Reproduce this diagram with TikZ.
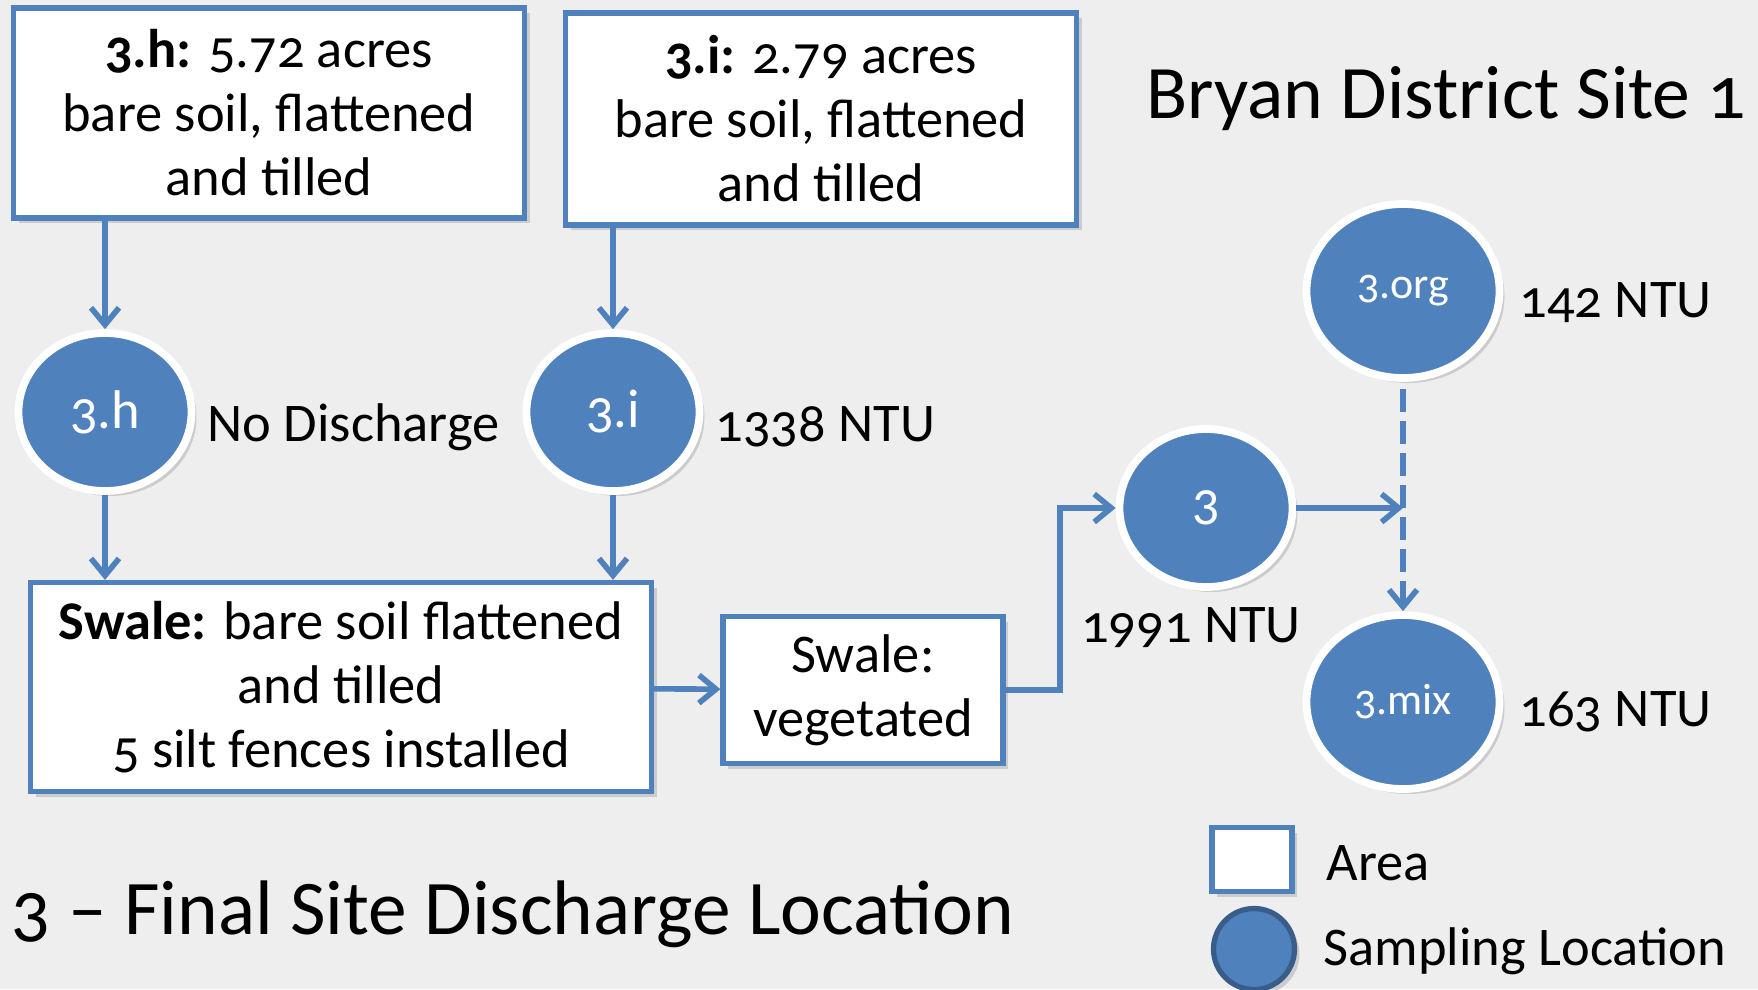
\documentclass[tikz,border=0pt]{standalone}
\usepackage{fontspec}
\setmainfont{Carlito}[Numbers=OldStyle]
\usetikzlibrary{arrows.meta,positioning,shapes.geometric,shadows}
\definecolor{areablue}{RGB}{79,129,189}
\definecolor{rimblue}{RGB}{56,93,138}
\definecolor{slidegray}{RGB}{238,238,238}
\tikzset{areastyle/.style = {rectangle, draw=areablue, fill=white, line width=1.5pt, align=center, inner sep=0pt,
		drop shadow={opacity=0.3, shadow xshift=0.05cm, shadow yshift=-0.05cm}},
	sitestyle/.style = {ellipse, draw=white, fill=areablue, line width=2.2pt, text=white, inner sep=0pt,
		minimum width=1.73cm, minimum height=1.58cm,
		drop shadow={opacity=0.3, shadow xshift=0.05cm, shadow yshift=-0.05cm}},
	bigsite/.style = {sitestyle, minimum width=1.93cm, minimum height=1.74cm, font=\fontsize{12.5pt}{15pt}\selectfont},
	tagstyle/.style = {inner sep=0pt, anchor=west},
	post/.style={->, >={Straight Barb[length=1.7mm,width=2.8mm]}, line width=1.6pt, draw=areablue},
	pre/.style={<-, >={Straight Barb[length=1.7mm,width=2.8mm]}, line width=1.6pt, draw=areablue}}

\begin{document}
\begin{tikzpicture}[font=\fontsize{15.5pt}{18.2pt}\selectfont]

 \fill [slidegray] (0,0) rectangle (17.58,-9.89);
 \useasboundingbox (0,0) rectangle (17.58,-9.89);

 \node (box3h) at (2.69,-1.13) [areastyle, minimum width=5.11cm, minimum height=2.10cm]
  {\textbf{3.h:} 5.72 acres\\bare soil, flattened\\and tilled};
 \node (box3i) at (8.21,-1.19) [areastyle, minimum width=5.11cm, minimum height=2.12cm]
  {\textbf{3.i:} 2.79 acres\\bare soil, flattened\\and tilled};
 \node (title) at (11.46,-0.99) [tagstyle, font=\fontsize{21.5pt}{26pt}\selectfont] {Bryan District Site 1};

 \node (c3h) at (1.05,-4.12) [sitestyle] {3.h};
 \node (c3i) at (6.13,-4.12) [sitestyle] {3.i};
 \node (nodis) at (2.07,-4.27) [tagstyle] {No Discharge};
 \node (ntu3i) at (7.15,-4.27) [tagstyle] {1338 NTU};

 \node (swalebare) at (3.41,-6.87) [areastyle, minimum width=6.21cm, minimum height=2.09cm]
  {\textbf{Swale:} bare soil flattened\\and tilled\\5 silt fences installed};
 \node (swaleveg) at (8.63,-6.90) [areastyle, minimum width=2.80cm, minimum height=1.47cm]
  {Swale:\\vegetated}
  edge [pre] (swalebare);

 \node (c3) at (12.06,-5.08) [sitestyle] {3};
 \node (ntu3) at (11.91,-6.28) {1991 NTU};
 \node (c3org) at (14.03,-2.91) [bigsite] {3.org};
 \node (ntuorg) at (15.19,-3.03) [tagstyle] {142 NTU};
 \node (c3mix) at (14.03,-7.02) [bigsite] {3.mix}
  edge [pre, dash pattern=on 2.3mm off 0.9mm] (c3org);
 \node (ntumix) at (15.19,-7.12) [tagstyle] {163 NTU};

 \coordinate (bend) at (10.60,-5.08);
 \coordinate (mixjoin) at (14.03,-5.08);

 \draw [post] (box3h.south -| c3h.north) -- (c3h.north);
 \draw [post] (box3i.south -| c3i.north) -- (c3i.north);
 \draw [post] (c3h.south) -- (c3h.south |- swalebare.north);
 \draw [post] (c3i.south) -- (c3i.south |- swalebare.north);
 \draw [post] (swaleveg.east) -| (bend) -- (c3.west);
 \draw [post] (c3.east) -- (mixjoin);

 % legend
 \node (legarea) at (12.52,-8.595) [areastyle, minimum width=0.80cm, minimum height=0.64cm] {};
 \node (legsite) at (12.54,-9.49) [sitestyle, draw=rimblue, line width=1.5pt, minimum width=0.81cm, minimum height=0.81cm] {};
 \node (areatext) at (13.26,-8.63) [tagstyle] {Area};
 \node (sitetext) at (13.23,-9.51) [tagstyle] {Sampling Location};

 \node (bottomtitle) at (0.11,-9.14) [tagstyle, font=\fontsize{22pt}{26pt}\selectfont] {3 -- Final Site Discharge Location};

\end{tikzpicture}
\end{document}
